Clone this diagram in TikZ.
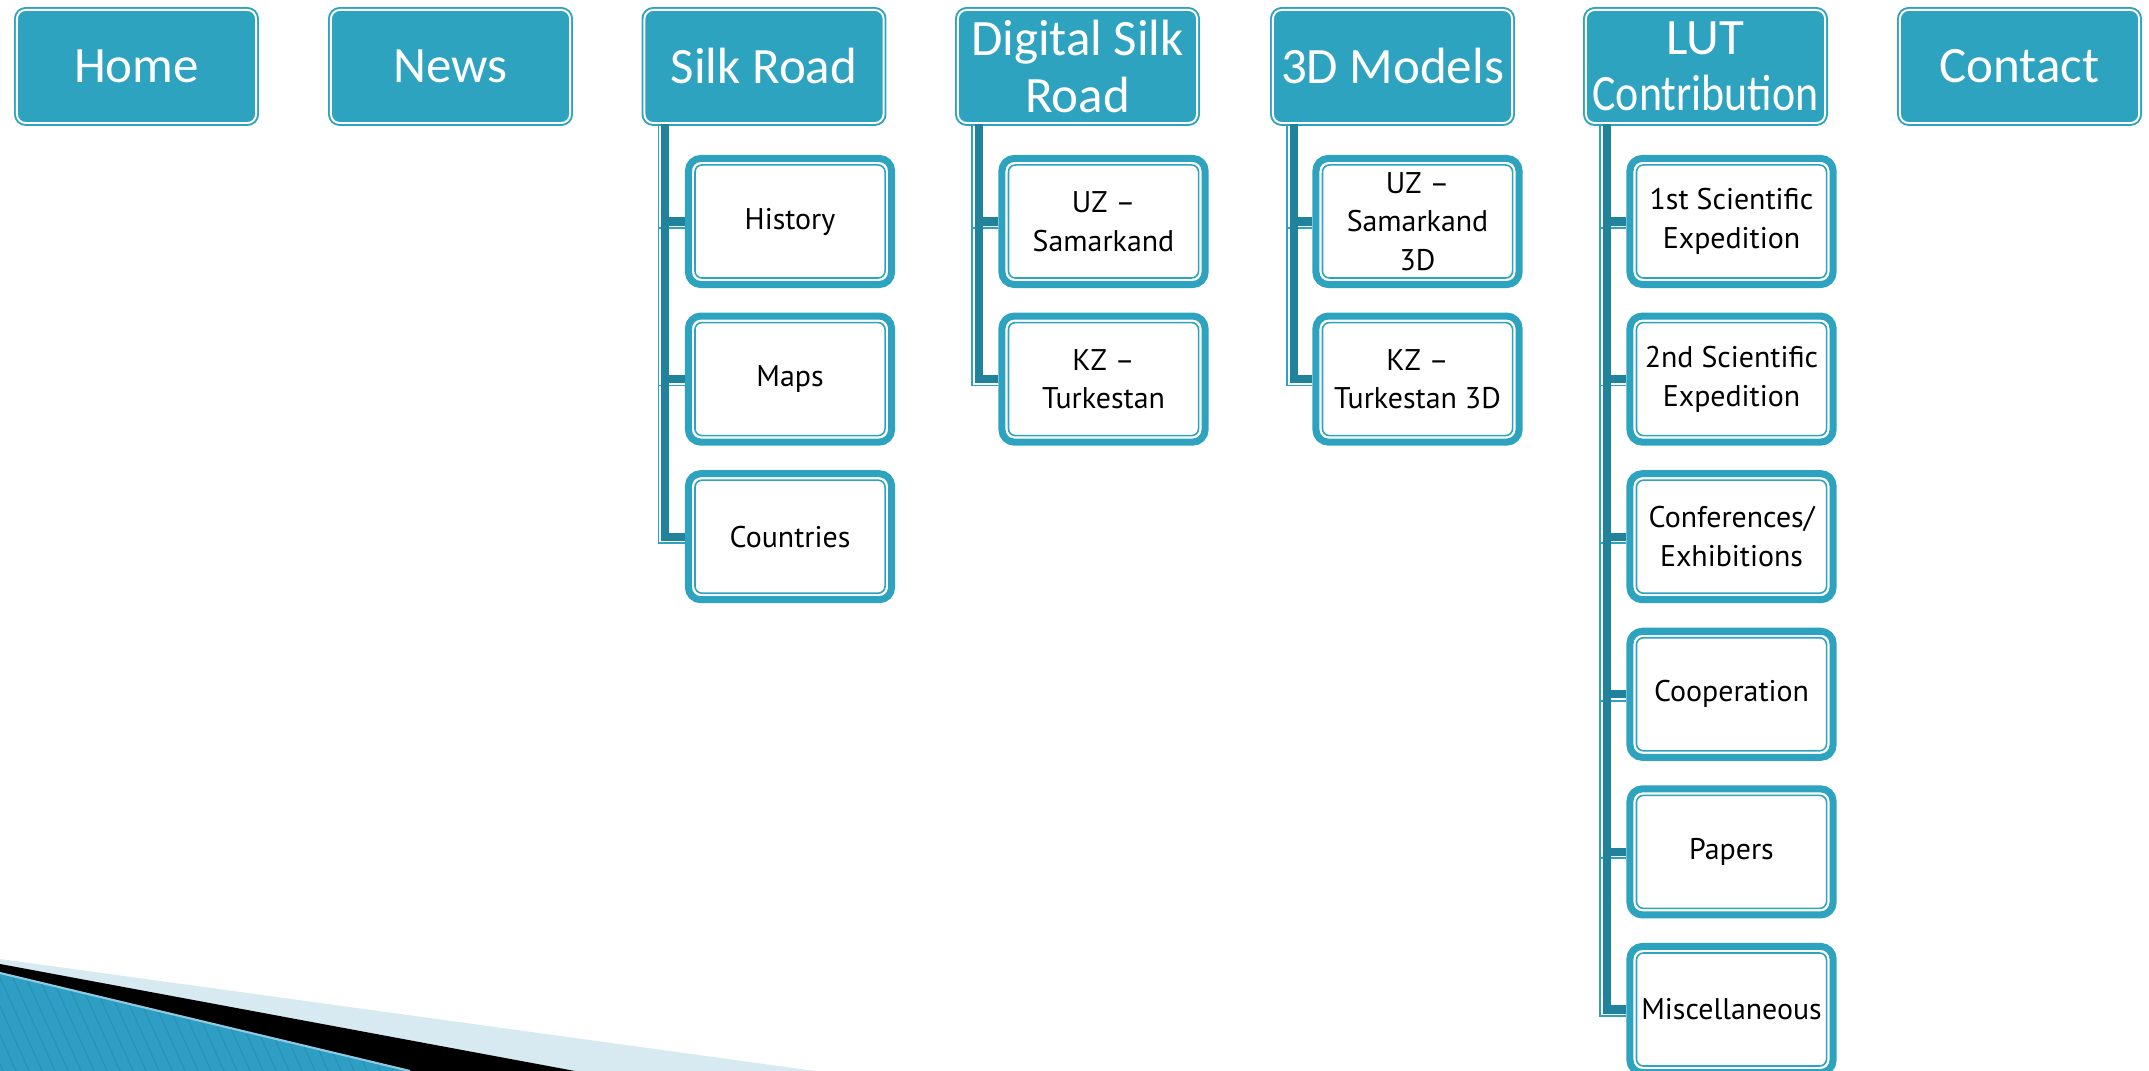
\documentclass[tikz,border=0pt]{standalone}
\usepackage{fontspec}
\usepackage{graphicx}
\setmainfont{PT Sans}
\newfontfamily\menufont{Carlito}

\definecolor{navfill}{HTML}{2EA3BF}
\definecolor{navdark}{HTML}{21839B}
\definecolor{wedgelight}{HTML}{D7EAF1}
\definecolor{wedgeblue}{HTML}{2E9EC5}
\definecolor{wedgeglow}{HTML}{5CB9DD}
\definecolor{wedgeedge}{HTML}{8FCBE0}

\tikzset{
  menu/.style={draw=navfill, double=white, line width=0.55pt, double distance=0.55pt,
    fill=navfill, rounded corners=2.5pt, minimum width=2.39cm, minimum height=1.13cm,
    inner sep=0pt, align=center, text=white, font=\menufont\fontsize{14.5}{16}\selectfont},
  sub/.style={draw=navfill, line width=2pt, fill=white, rounded corners=3.5pt,
    minimum width=2.03cm, minimum height=1.26cm, inner sep=0pt, align=center,
    font=\fontsize{8.5}{11}\selectfont,
    path picture={\draw[navfill, line width=0.45pt, rounded corners=2pt]
      ([shift={(1.85pt,1.85pt)}]path picture bounding box.south west) rectangle
      ([shift={(-1.85pt,-1.85pt)}]path picture bounding box.north east);}},
  trunk/.style={draw=navdark, line width=2.3pt},
  trunkedge/.style={draw=navfill, line width=0.5pt},
}

\begin{document}
\begin{tikzpicture}[x=0.01cm, y=-0.01cm]
  \useasboundingbox (0,0) rectangle (2149,1071);

  % corner wedge
  \fill[wedgelight] (0,959) -- (815,1071) -- (0,1071) -- cycle;
  \fill[black] (0,964) -- (575,1071) -- (0,1071) -- cycle;
  \shade[left color=wedgeblue, middle color=wedgeglow, right color=wedgeblue]
    (0,973) -- (410,1071) -- (0,1071) -- cycle;
  \begin{scope}
    \clip (0,973) -- (410,1071) -- (0,1071) -- cycle;
    \foreach \s in {-60,-47,...,420}
      \draw[navdark, line width=0.3pt, opacity=0.45] (\s,960) -- (\s+52,1075);
  \end{scope}
  \draw[wedgeedge, line width=0.6pt] (0,973) -- (410,1071);

  % menu bar
  \node[menu] (home)    at (136.5,66.5)  {Home};
  \node[menu] (news)    at (450.5,66.5)  {News};
  \node[menu] (silk)    at (764,66.5)    {Silk Road};
  \node[menu] (digital) at (1077.5,66.5) {Digital Silk\\Road};
  \node[menu] (models)  at (1392.5,66.5) {3D Models};
  \node[menu] (lut)     at (1705.5,66.5) {LUT\\\scalebox{0.86}[1]{Contribution}};
  \node[menu] (contact) at (2019.5,66.5) {Contact};

  % sub pages
  \foreach \lbl [count=\i] in {History, Maps, Countries}
    \node[sub] (silk\i) at (790,{63.9+157.6*\i}) {\lbl};
  \foreach \lbl [count=\i] in {{UZ –\\Samarkand}, {KZ –\\Turkestan}}
    \node[sub] (digital\i) at (1103.5,{63.9+157.6*\i}) {\lbl};
  \foreach \lbl [count=\i] in {{UZ –\\Samarkand\\3D}, {KZ –\\Turkestan 3D}}
    \node[sub] (models\i) at (1417.5,{63.9+157.6*\i}) {\lbl};
  \foreach \lbl [count=\i] in {{1st Scientific\\Expedition}, {2nd Scientific\\Expedition},
      {Conferences/\\Exhibitions}, Cooperation, Papers, Miscellaneous}
    \node[sub] (lut\i) at (1731.5,{63.9+157.6*\i}) {\lbl};

  % tree lines
  \foreach \p/\n in {silk/3, digital/2, models/2, lut/6} {
    \foreach \i in {1,...,\n} {
      \draw[trunkedge] ([xshift=-1.055cm]\p.south) |- ([yshift=-1.8pt]\p\i.west);
      \draw[trunk] ([xshift=-0.985cm]\p.south) |- (\p\i.west);
    }
  }
\end{tikzpicture}
\end{document}
